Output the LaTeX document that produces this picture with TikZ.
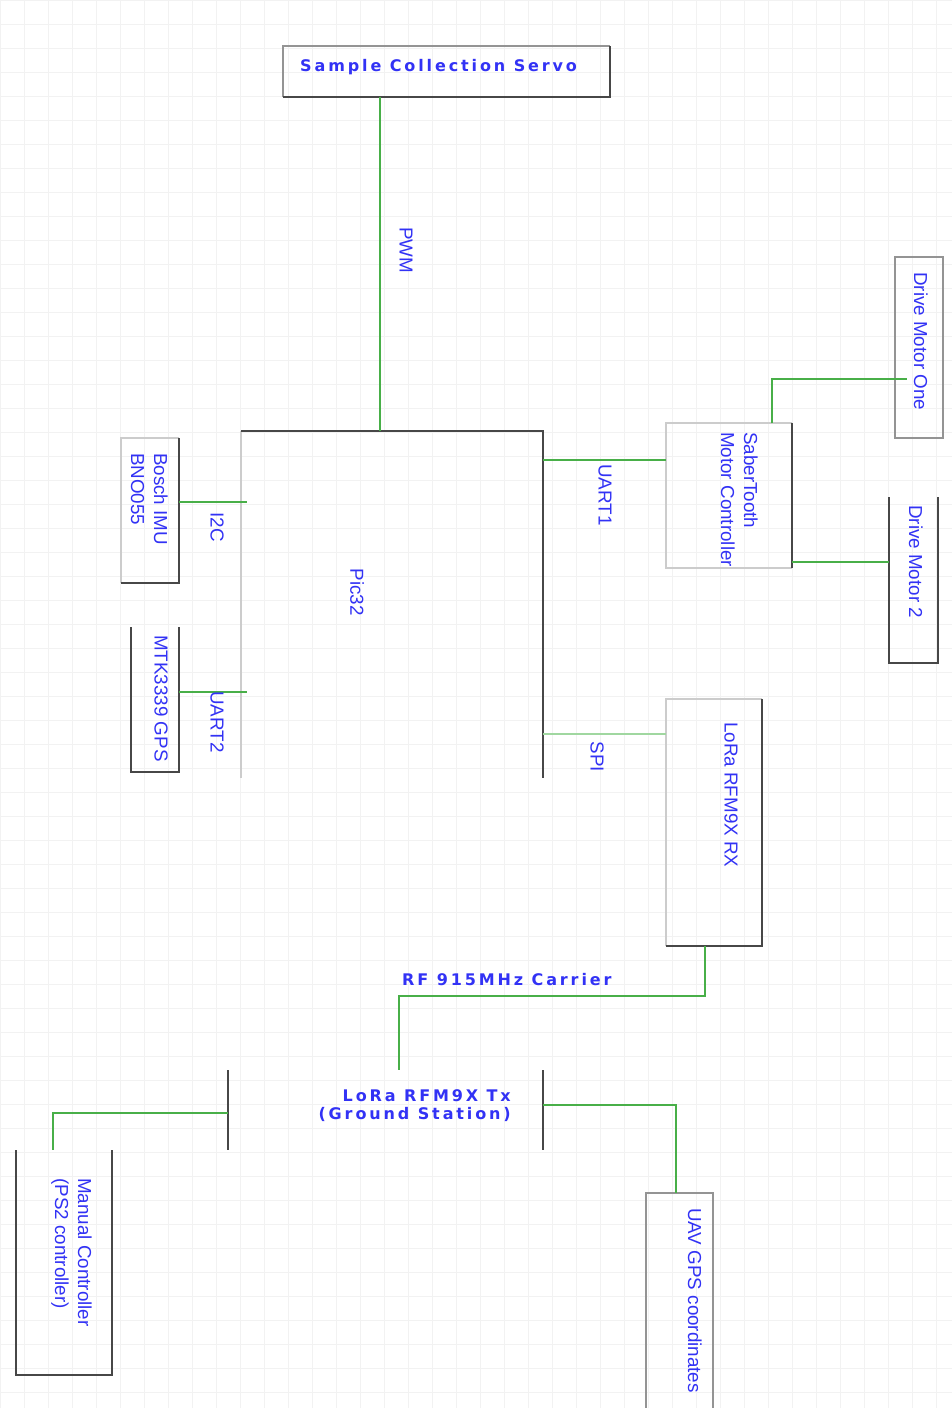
\documentclass[tikz,border=0pt]{standalone}
\usepackage{fontspec}
\setmainfont{Liberation Sans}
\newfontfamily\widefont{DejaVu Sans}[LetterSpace=18.0]
\definecolor{txt}{RGB}{50,50,245}
\definecolor{wgreen}{RGB}{72,175,72}
\definecolor{wlight}{RGB}{160,215,160}
\begin{document}
\begin{tikzpicture}[x=1pt,y=-1pt,
  box/.style={inner sep=0pt, outer sep=0pt, draw=none, anchor=north west},
  vlbl/.style={text=txt, font=\fontsize{18.8}{23}\selectfont, inner sep=0pt, rotate=-90, align=left},
  hlbl/.style={text=txt, font=\widefont\bfseries\fontsize{16}{18}\selectfont, inner sep=0pt},
  darkside/.style={draw=black!72, line width=2pt},
  lightside/.style={draw=black!20, line width=1.3pt},
  midside/.style={draw=black!42, line width=1.5pt},
  wire/.style={draw=wgreen, line width=2pt},
  thinwire/.style={draw=wlight, line width=1.3pt},
  gridln/.style={draw=black!5, line width=0.6pt}]
\useasboundingbox (0,0) rectangle (952,1408);
\fill[white] (0,0) rectangle (952,1408);
\foreach \gx in {0,24,...,950} {\draw[gridln] (\gx,0) -- (\gx,1408);}
\foreach \gy in {0,24,...,1406} {\draw[gridln] (0,\gy) -- (952,\gy);}

% boxes
\node[box, minimum width=327pt, minimum height=51pt] (servo) at (283,46) {};
\node[box, minimum width=302pt, minimum height=347pt] (pic) at (241,431) {};
\node[box, minimum width=58pt, minimum height=145pt] (bosch) at (121,438) {};
\node[box, minimum width=48pt, minimum height=145pt] (mtk) at (131,627) {};
\node[box, minimum width=126pt, minimum height=145pt] (saber) at (666,423) {};
\node[box, minimum width=48pt, minimum height=181pt] (dm1) at (895,257) {};
\node[box, minimum width=49pt, minimum height=166pt] (dm2) at (889,497) {};
\node[box, minimum width=96pt, minimum height=247pt] (lorarx) at (666,699) {};
\node[box, minimum width=315pt, minimum height=80pt] (tx) at (228,1070) {};
\node[box, minimum width=96pt, minimum height=225pt] (manual) at (16,1150) {};
\node[box, minimum width=67pt, minimum height=220pt] (uav) at (646,1193) {};

% box sides
\draw[midside] (servo.south west) -- (servo.north west) -- (servo.north east);
\draw[darkside] (servo.north east) -- (servo.south east) -- (servo.south west);
\draw[lightside] (pic.north west) -- (pic.south west);
\draw[darkside] (pic.north west) -- (pic.north east) -- (pic.south east);
\draw[lightside] (bosch.south west) -- (bosch.north west) -- (bosch.north east);
\draw[darkside] (bosch.north east) -- (bosch.south east) -- (bosch.south west);
\draw[darkside] (mtk.north west) -- (mtk.south west) -- (mtk.south east) -- (mtk.north east);
\draw[lightside] (saber.north east) -- (saber.north west) -- (saber.south west) -- (saber.south east);
\draw[darkside] (saber.north east) -- (saber.south east);
\draw[midside] (dm1.north west) rectangle (dm1.south east);
\draw[darkside] (dm2.north west) -- (dm2.south west) -- (dm2.south east) -- (dm2.north east);
\draw[lightside] (lorarx.south west) -- (lorarx.north west) -- (lorarx.north east);
\draw[darkside] (lorarx.north east) -- (lorarx.south east) -- (lorarx.south west);
\draw[darkside] (tx.north west) -- (tx.south west);
\draw[darkside] (tx.north east) -- (tx.south east);
\draw[darkside] (manual.north west) -- (manual.south west) -- (manual.south east) -- (manual.north east);
\draw[midside] (uav.south west) -- (uav.north west) -- (uav.north east) -- (uav.south east);

% texts
\node[hlbl, anchor=base west] (tservo) at (300,71) {Sample Collection Servo};
\node[vlbl, anchor=center] (tpic) at (357,592) {Pic32};
\node[vlbl, anchor=north west] (tbosch) at (168,453) {Bosch IMU\\BNO055};
\node[vlbl, anchor=north west] (tmtk) at (168,635) {MTK3339 GPS};
\node[vlbl, anchor=north west] (tsaber) at (758,432) {SaberTooth\\Motor Controller};
\node[vlbl, anchor=north west] (tdm1) at (928,272) {Drive Motor One};
\node[vlbl, anchor=north west] (tdm2) at (923,505) {Drive Motor 2};
\node[vlbl, anchor=north west] (trx) at (738,722) {LoRa RFM9X RX};
\node[hlbl, align=right, anchor=north east] (ttx) at (511,1089) {LoRa RFM9X Tx\\(Ground Station)};
\node[vlbl, anchor=north west] (tmanual) at (92,1178) {Manual Controller\\(PS2 controller)};
\node[vlbl, anchor=north west] (tuav) at (702,1208) {UAV GPS coordinates};

% connectors
\coordinate (rfbend) at (399,996);
\draw[wire] (servo.south -| 380,0) -- (pic.north -| 380,0);
\node[vlbl, anchor=center] (tpwm) at (406,250) {PWM};
\draw[wire, line width=1.4pt] (bosch.east |- 0,502) -- ([xshift=6pt]pic.west |- 0,502);
\node[vlbl, anchor=center] (ti2c) at (217,527) {I2C};
\draw[wire] (mtk.east |- 0,692) -- ([xshift=6pt]pic.west |- 0,692);
\node[vlbl, anchor=center] (tuart2) at (217,722) {UART2};
\draw[wire] (pic.east |- 0,460) -- (saber.west |- 0,460);
\node[vlbl, anchor=center] (tuart1) at (605,495) {UART1};
\draw[thinwire] (pic.east |- 0,734) -- (lorarx.west |- 0,734);
\node[vlbl, anchor=center] (tspi) at (597,757) {SPI};
\draw[wire] (saber.north -| 772,0) |- ([xshift=12pt]dm1.west |- 0,379);
\draw[wire] (saber.east |- 0,562) -- (dm2.west |- 0,562);
\draw[wire, line width=1.5pt] (lorarx.south -| 705,0) |- (rfbend) -- (tx.north -| rfbend);
\node[hlbl, anchor=base west] (trf) at (402,985) {RF 915MHz Carrier};
\draw[wire, line width=1.6pt] (tx.west |- 0,1113) -| (manual.north -| 53,0);
\draw[wire] (tx.east |- 0,1105) -| (uav.north -| 676,0);
\end{tikzpicture}
\end{document}
